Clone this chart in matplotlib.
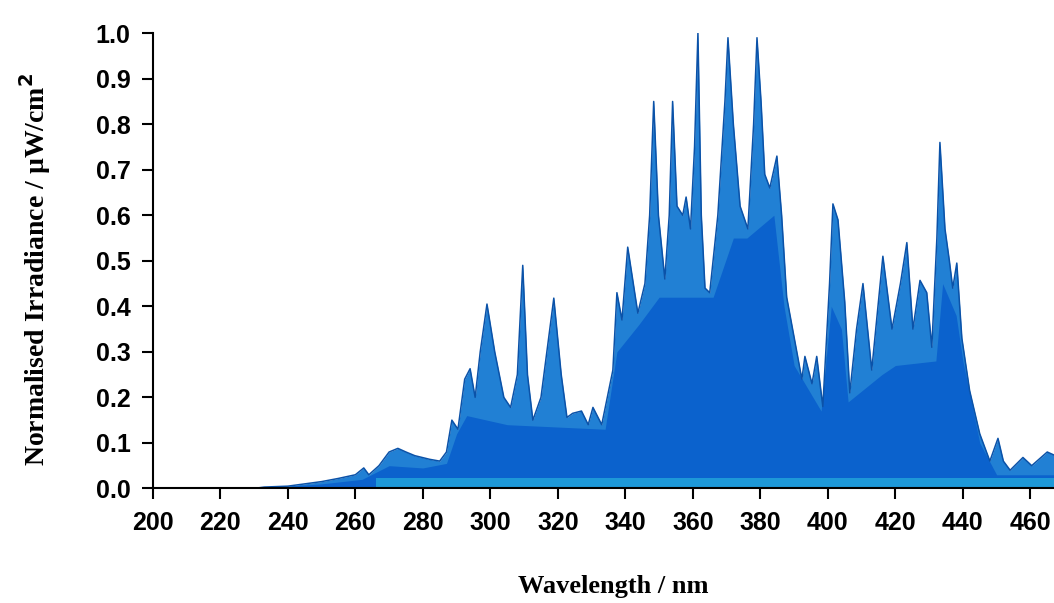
import matplotlib.pyplot as plt

# Spectrum envelope (upper edge of the filled spectrum)
wavelength = [230.0, 233, 240, 245, 250, 255, 260, 262.5, 264, 267, 270, 272.6, 275,
              277.6, 282, 285, 287, 288.6, 290.4, 292.4, 294, 295.5, 297, 299, 301.3,
              304, 306, 308, 309.6, 311, 312.6, 315, 318.8, 321, 322.7, 324.4, 327,
              329, 330.4, 333, 336.3, 337.5, 339, 340.7, 343.7, 345.8, 347.2, 348.4,
              349.8, 351.7, 353, 354, 355.3, 357, 358, 359.3, 360.5, 361.5, 362.5,
              363.6, 365, 367.4, 369.5, 370.4, 372, 374, 376.3, 378, 379, 380.2, 381.3,
              382.8, 384.9, 386.3, 387.8, 390.8, 392.3, 393.2, 395.3, 396.7, 398.5,
              400.5, 401.5, 403, 405, 406.5, 408.5, 410.4, 413, 416.3, 419, 421.5,
              423.4, 425.2, 427.3, 429.3, 430.8, 432.3, 433.2, 434.7, 436.0, 437,
              438.2, 439.7, 442, 445, 448, 450.4, 452, 454, 457.8, 460.4, 465, 468]
irradiance = [0.0, 0.003, 0.005, 0.01, 0.015, 0.022, 0.03, 0.045, 0.03, 0.05, 0.08, 0.088,
              0.08, 0.072, 0.064, 0.06, 0.08, 0.15, 0.13, 0.24, 0.263, 0.2, 0.30, 0.405,
              0.30, 0.2, 0.178, 0.25, 0.49, 0.25, 0.15, 0.2, 0.418, 0.25, 0.156, 0.165,
              0.17, 0.14, 0.178, 0.14, 0.26, 0.43, 0.37, 0.53, 0.385, 0.45, 0.6, 0.85,
              0.6, 0.46, 0.6, 0.85, 0.62, 0.6, 0.64, 0.57, 0.75, 1.0, 0.6, 0.44, 0.43,
              0.6, 0.85, 0.99, 0.8, 0.62, 0.57, 0.8, 0.99, 0.85, 0.69, 0.66, 0.73, 0.6,
              0.42, 0.30, 0.24, 0.29, 0.23, 0.29, 0.18, 0.45, 0.625, 0.59, 0.41, 0.21,
              0.35, 0.45, 0.26, 0.51, 0.35, 0.45, 0.54, 0.35, 0.457, 0.43, 0.31, 0.55,
              0.76, 0.57, 0.50, 0.44, 0.495, 0.33, 0.215, 0.12, 0.06, 0.11, 0.06, 0.04,
              0.068, 0.05, 0.08, 0.07]

# Darker body of the spectrum
base_wl = [230, 250, 262, 270, 280, 287, 290, 293, 305, 334, 337.5, 344, 350, 366,
           372, 376, 384, 387, 390, 398, 401, 404, 406, 411, 416, 420, 432, 434, 438,
           440, 445, 450, 468]
base_irr = [0.0, 0.01, 0.02, 0.05, 0.045, 0.055, 0.12, 0.16, 0.14, 0.13, 0.30, 0.36,
            0.42, 0.42, 0.55, 0.55, 0.60, 0.40, 0.27, 0.17, 0.40, 0.35, 0.19, 0.22,
            0.25, 0.27, 0.28, 0.45, 0.38, 0.28, 0.10, 0.03, 0.03]

# Light strip along the bottom
band_wl = [266, 468]
band_lo = [0.004, 0.004]
band_hi = [0.024, 0.024]

xticks = list(range(200, 461, 20))
yticks = [i / 10 for i in range(11)]

fig = plt.figure(figsize=(10.54, 6.03), dpi=100)
ax = fig.add_axes([0.145, 0.19, 0.855, 0.755])

ax.fill_between(wavelength, 0, irradiance, color='#2180d4', linewidth=0)
ax.fill_between(base_wl, 0, base_irr, color='#0b62cd', linewidth=0)
ax.fill_between(band_wl, band_lo, band_hi, color='#1d98d8', linewidth=0)
ax.plot(wavelength, irradiance, color='#0b52a8', linewidth=1.1)

ax.set_xlim(200, 467)
ax.set_ylim(0, 1.0)
ax.set_xticks(xticks)
ax.set_yticks(yticks)
ax.set_yticklabels([f'{v:.1f}' for v in yticks])

for s in ['top', 'right']:
    ax.spines[s].set_visible(False)
for s in ['left', 'bottom']:
    ax.spines[s].set_linewidth(1.5)
    ax.spines[s].set_zorder(5)

for lab in ax.get_xticklabels() + ax.get_yticklabels():
    lab.set_fontfamily(['Liberation Sans Narrow', 'Liberation Sans', 'DejaVu Sans'])
    lab.set_fontweight('bold')
    lab.set_fontsize(18)
ax.tick_params(axis='both', direction='out', length=8, width=1.5)
ax.tick_params(axis='x', pad=8)
ax.tick_params(axis='y', pad=8)

fig.text(0.582, 0.027, 'Wavelength / nm', ha='center', va='center',
         family=['Liberation Serif', 'DejaVu Serif'], weight='bold', fontsize=19)
fig.text(0.033, 0.553, 'Normalised Irradiance / µW/cm$^\\mathbf{2}$', ha='center',
         va='center', rotation=90, family=['Liberation Serif', 'DejaVu Serif'],
         weight='bold', fontsize=20)

plt.savefig('out.png', dpi=100)
